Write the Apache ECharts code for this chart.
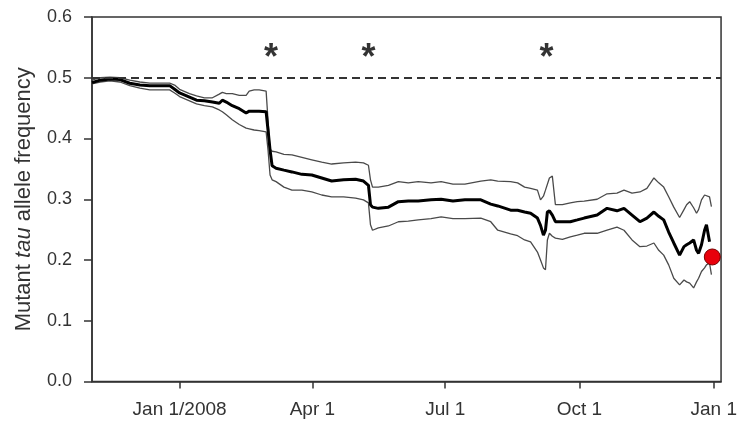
<!DOCTYPE html>
<html>
<head>
<meta charset="utf-8">
<script src="https://cdn.jsdelivr.net/npm/echarts@6/dist/echarts.min.js"></script>
<style>html,body{margin:0;padding:0;background:#fff}#c{width:740px;height:425px}</style>
</head>
<body>
<div id="c"></div>
<script>
// Days relative to Jan 1, 2008
const days = [-60,-54.5,-47.7,-40.9,-34.1,-27.2,-20.4,-13.6,-6.8,-3.4,0,6.8,11.6,17.0,22.5,27.2,29.3,32.0,36.1,40.9,45.6,47.7,51.1,54.5,59.3,60.6,62.0,63.4,66.1,71.5,77.0,83.8,90.6,97.4,104.2,112.4,120.6,126.0,129.4,130.8,132.2,136.2,143.1,149.9,156.7,163.5,172.3,179.2,187.3,195.5,206.4,213.2,218.0,226.8,231.6,236.4,240.5,245.2,247.3,249.3,250.7,252.0,253.4,255.4,257.5,262.3,267.7,272.5,277.2,286.1,292.9,299.7,304.5,310.0,315.4,320.2,325.0,328.3,331.7,335.1,338.6,342.6,345.6,347.4,349.5,352.2,354.2,355.6,357.6,359.7,361.0,363.1,364.4];
const meanFreq = [0.492,0.496,0.498,0.497,0.491,0.488,0.487,0.487,0.487,0.481,0.475,0.468,0.463,0.462,0.460,0.458,0.463,0.460,0.454,0.449,0.442,0.445,0.445,0.445,0.444,0.414,0.381,0.355,0.351,0.348,0.345,0.341,0.340,0.335,0.330,0.332,0.333,0.330,0.323,0.291,0.287,0.285,0.287,0.296,0.297,0.297,0.299,0.300,0.297,0.299,0.299,0.292,0.289,0.282,0.282,0.279,0.277,0.269,0.257,0.241,0.249,0.279,0.281,0.274,0.263,0.263,0.263,0.266,0.269,0.274,0.285,0.281,0.285,0.274,0.263,0.269,0.279,0.272,0.266,0.246,0.228,0.208,0.222,0.225,0.228,0.233,0.216,0.211,0.225,0.249,0.258,0.230,null];
const upperFreq = [0.496,0.500,0.501,0.500,0.496,0.493,0.491,0.491,0.491,0.488,0.481,0.474,0.470,0.467,0.467,0.473,0.476,0.474,0.474,0.471,0.471,0.478,0.480,0.480,0.478,0.430,0.381,0.379,0.378,0.374,0.373,0.369,0.365,0.361,0.358,0.360,0.361,0.360,0.356,0.332,0.320,0.320,0.323,0.329,0.327,0.329,0.327,0.329,0.325,0.325,0.330,0.332,0.330,0.329,0.327,0.320,0.318,0.315,0.299,0.305,0.315,0.317,0.335,0.338,0.291,0.291,0.294,0.296,0.297,0.300,0.309,0.310,0.315,0.310,0.312,0.318,0.335,0.327,0.320,0.304,0.287,0.270,0.283,0.291,0.296,0.286,0.277,0.283,0.299,0.307,0.307,0.304,0.288];
const lowerFreq = [0.490,0.493,0.495,0.493,0.487,0.483,0.480,0.480,0.480,0.475,0.469,0.462,0.457,0.454,0.452,0.447,0.444,0.439,0.431,0.423,0.417,0.416,0.414,0.413,0.411,0.381,0.340,0.332,0.329,0.320,0.315,0.315,0.312,0.307,0.304,0.304,0.302,0.299,0.294,0.258,0.249,0.253,0.256,0.263,0.264,0.266,0.268,0.271,0.268,0.268,0.269,0.263,0.249,0.243,0.240,0.233,0.230,0.213,0.200,0.187,0.184,0.233,0.244,0.239,0.236,0.234,0.238,0.241,0.244,0.244,0.249,0.254,0.249,0.233,0.222,0.223,0.228,0.216,0.208,0.192,0.170,0.159,0.167,0.164,0.162,0.154,0.164,0.170,0.181,0.187,0.192,0.195,0.176];
const tickDays = [0, 91, 182, 274, 366];
const tickLabels = ['Jan 1/2008', 'Apr 1', 'Jul 1', 'Oct 1', 'Jan 1'];
const starDays = [62.7, 129.4, 251.4];
const starLevel = 0.542;
const finalPoint = [365, 0.205];
const neutralLevel = 0.5;

const pair = arr => days.map((d, i) => [d, arr[i]]);
const font = 'Liberation Sans, Arial, sans-serif';
const chart = echarts.init(document.getElementById('c'), null, {renderer: 'canvas'});
chart.setOption({
  animation: false,
  grid: {left: 92, top: 17, width: 633, height: 364.5, show: true, borderColor: '#333', borderWidth: 1.5, backgroundColor: 'transparent'},
  xAxis: {
    type: 'value', min: -60, max: 371,
    axisLine: {show: true, onZero: false, lineStyle: {color: '#333', width: 1.5}},
    axisTick: {show: true, customValues: tickDays, length: 7, lineStyle: {color: '#333', width: 1.5}},
    axisLabel: {customValues: tickDays, margin: 19, color: '#333', fontSize: 19, fontFamily: font,
      formatter: v => { const i = tickDays.indexOf(Math.round(v)); return i >= 0 ? tickLabels[i] : ''; }},
    splitLine: {show: false}
  },
  yAxis: {
    type: 'value', min: 0, max: 0.6, interval: 0.1,
    name: 'Mutant {i|tau} allele frequency', nameLocation: 'middle', nameGap: 57,
    nameTextStyle: {fontSize: 22, color: '#333', fontFamily: font, rich: {i: {fontStyle: 'italic', fontSize: 22, color: '#333', fontFamily: font}}},
    axisLine: {show: true, onZero: false, lineStyle: {color: '#333', width: 1.5}},
    axisTick: {show: true, length: 8, lineStyle: {color: '#333', width: 1.5}},
    axisLabel: {margin: 20, color: '#333', fontSize: 18, fontFamily: font, formatter: v => v.toFixed(1)},
    splitLine: {show: false}
  },
  series: [
    {type: 'line', data: pair(lowerFreq), showSymbol: false, symbol: 'none', lineStyle: {color: '#4a4a4a', width: 1.3}, z: 2},
    {type: 'line', data: pair(upperFreq), showSymbol: false, symbol: 'none', lineStyle: {color: '#4a4a4a', width: 1.3}, z: 2},
    {type: 'line', data: pair(meanFreq), showSymbol: false, symbol: 'none', connectNulls: false, lineStyle: {color: '#000', width: 3}, z: 3,
      markLine: {silent: true, symbol: 'none', label: {show: false},
        lineStyle: {color: '#333', width: 1.8, type: [8, 5]}, data: [{yAxis: neutralLevel}]}},
    {type: 'scatter', data: starDays.map(d => [d, starLevel]), symbolSize: 0, z: 4,
      label: {show: true, position: 'inside', formatter: '*', fontSize: 36, fontWeight: 'bold', color: '#000', fontFamily: font, offset: [0, 7]}},
    {type: 'scatter', data: [finalPoint], symbol: 'circle', symbolSize: 16, z: 5,
      itemStyle: {color: '#e8000b', opacity: 1, borderColor: '#700', borderWidth: 1}}
  ]
});
</script>
</body>
</html>
